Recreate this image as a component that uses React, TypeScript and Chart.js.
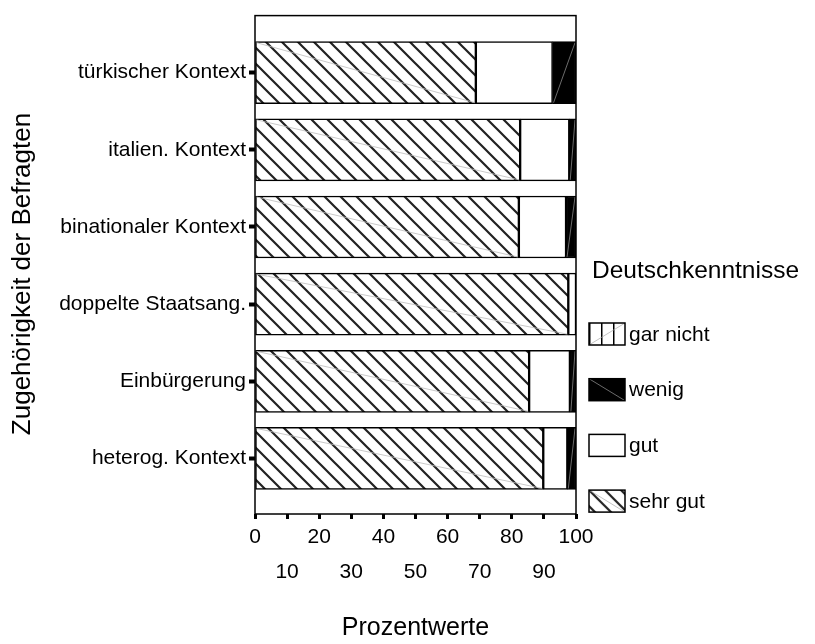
import React, { useEffect, useRef } from 'react';
import { Chart, registerables } from 'chart.js';

Chart.register(...registerables);

const categories = [
  'türkischer Kontext',
  'italien. Kontext',
  'binationaler Kontext',
  'doppelte Staatsang.',
  'Einbürgerung',
  'heterog. Kontext',
];
const sehrGut = [68.8, 82.6, 82.2, 97.6, 85.4, 89.8];
const gut = [23.9, 15.3, 14.7, 2.4, 12.7, 7.5];
const wenig = [7.3, 2.1, 3.1, 0, 1.9, 2.7];
const garNicht = [0, 0, 0, 0, 0, 0];
const seriesLabels = ['sehr gut', 'gut', 'wenig', 'gar nicht'];
const xTickValues = [0, 10, 20, 30, 40, 50, 60, 70, 80, 90, 100];
const legendTitle = 'Deutschkenntnisse';
const xTitle = 'Prozentwerte';
const yTitle = 'Zugehörigkeit der Befragten';

const FONT = "'Liberation Sans', Arial, Helvetica, sans-serif";

function makePattern(kind: string): CanvasPattern | string {
  const c = document.createElement('canvas');
  const ctx = c.getContext('2d');
  if (!ctx) return '#fff';
  if (kind === 'stripes') {
    const s = 16;
    c.width = s;
    c.height = s;
    ctx.fillStyle = '#fff';
    ctx.fillRect(0, 0, s, s);
    ctx.strokeStyle = '#222';
    ctx.lineWidth = 2.2;
    ctx.beginPath();
    ctx.moveTo(-2, -2);
    ctx.lineTo(s + 2, s + 2);
    ctx.moveTo(s - 2, -2);
    ctx.lineTo(s + 2, 2);
    ctx.moveTo(-2, s - 2);
    ctx.lineTo(2, s + 2);
    ctx.stroke();
  } else if (kind === 'vlines') {
    const s = 12;
    c.width = s;
    c.height = s;
    ctx.fillStyle = '#fff';
    ctx.fillRect(0, 0, s, s);
    ctx.fillStyle = '#000';
    ctx.fillRect(0, 0, 1.5, s);
  }
  const p = ctx.createPattern(c, 'repeat');
  return p || '#fff';
}

export default function App() {
  const ref = useRef<HTMLCanvasElement | null>(null);

  useEffect(() => {
    if (!ref.current) return;
    const stripes = makePattern('stripes');
    const vlines = makePattern('vlines');

    const toPoints = (arr: number[]) => arr.map((v, i) => ({ x: v, y: i }));

    const framePlugin = {
      id: 'frame',
      afterDatasetsDraw(chart: any) {
        const { ctx, chartArea } = chart;
        ctx.save();
        chart.data.datasets.forEach((ds: any, di: number) => {
          if (ds.label !== 'sehr gut' && ds.label !== 'wenig') return;
          const meta = chart.getDatasetMeta(di);
          meta.data.forEach((bar: any) => {
            const { x, y, base, height } = bar.getProps(['x', 'y', 'base', 'height'], true);
            if (Math.abs(x - base) < 1) return;
            const top = y - height / 2;
            const bottom = y + height / 2;
            ctx.strokeStyle = ds.label === 'wenig' ? '#888' : '#bbb';
            ctx.lineWidth = 0.8;
            ctx.beginPath();
            if (ds.label === 'sehr gut') {
              ctx.moveTo(base + 1, top + 1);
              ctx.lineTo(x - 1, bottom - 1);
            } else {
              ctx.moveTo(base + 1, bottom - 1);
              ctx.lineTo(x - 1, top + 1);
            }
            ctx.stroke();
          });
        });
        ctx.strokeStyle = '#000';
        ctx.lineWidth = 1.5;
        ctx.strokeRect(
          chartArea.left,
          chartArea.top,
          chartArea.right - chartArea.left,
          chartArea.bottom - chartArea.top
        );
        ctx.restore();
      },
    };

    const legendPlugin = {
      id: 'customLegend',
      afterDraw(chart: any) {
        const { ctx, chartArea } = chart;
        const x0 = chartArea.right + 13;
        ctx.save();
        ctx.save();
        ctx.translate(23, 274);
        ctx.rotate(-Math.PI / 2);
        ctx.fillStyle = '#000';
        ctx.font = `26px ${FONT}`;
        ctx.textAlign = 'center';
        ctx.textBaseline = 'middle';
        ctx.fillText(yTitle, 0, 0);
        ctx.restore();

        ctx.fillStyle = '#000';
        ctx.font = `24.5px ${FONT}`;
        ctx.textBaseline = 'alphabetic';
        ctx.textAlign = 'left';
        ctx.fillText(legendTitle, x0 + 3, 278);
        const items = [...chart.data.datasets].reverse();
        items.forEach((ds: any, i: number) => {
          const y = 323 + i * 55.7;
          ctx.save();
          ctx.translate(x0, y);
          ctx.fillStyle = ds.backgroundColor;
          ctx.fillRect(0, 0, 36, 22);
          if (ds.label === 'gar nicht' || ds.label === 'wenig' || ds.label === 'sehr gut') {
            ctx.strokeStyle = ds.label === 'wenig' ? '#999' : '#aaa';
            ctx.lineWidth = 0.7;
            ctx.beginPath();
            if (ds.label === 'gar nicht') {
              ctx.moveTo(0, 22);
              ctx.lineTo(36, 0);
            } else {
              ctx.moveTo(0, 0);
              ctx.lineTo(36, 22);
            }
            ctx.stroke();
          }
          ctx.strokeStyle = '#000';
          ctx.lineWidth = 1.5;
          ctx.strokeRect(0, 0, 36, 22);
          ctx.restore();
          ctx.fillStyle = '#000';
          ctx.font = `21px ${FONT}`;
          ctx.textBaseline = 'middle';
          ctx.fillText(ds.label, x0 + 40, y + 12);
        });
        ctx.restore();
      },
    };

    const common = {
      borderColor: '#000',
      borderWidth: 1.5,
      borderSkipped: false,
      barThickness: 62,
    };

    const chart = new Chart(ref.current, {
      type: 'bar',
      data: {
        datasets: [
          { ...common, label: seriesLabels[0], data: toPoints(sehrGut), backgroundColor: stripes },
          { ...common, label: seriesLabels[1], data: toPoints(gut), backgroundColor: '#fff' },
          { ...common, label: seriesLabels[2], data: toPoints(wenig), backgroundColor: '#000' },
          { ...common, label: seriesLabels[3], data: toPoints(garNicht), backgroundColor: vlines },
        ] as any,
      },
      options: {
        indexAxis: 'y',
        responsive: false,
        animation: false,
        layout: { padding: { left: 0, right: 815 - 576, top: 14, bottom: 0 } },
        plugins: {
          legend: { display: false },
          tooltip: { enabled: false },
        },
        scales: {
          x: {
            type: 'linear',
            stacked: true,
            offset: false,
            min: 0,
            max: 100,
            afterBuildTicks: (scale: any) => {
              scale.ticks = xTickValues.map((v) => ({ value: v }));
            },
            afterFit: (scale: any) => {
              scale.height = 130;
            },
            ticks: {
              autoSkip: false,
              maxRotation: 0,
              minRotation: 0,
              padding: 1,
              color: '#000',
              font: { family: FONT, size: 21, lineHeight: 35 / 21 },
              callback: (v: any, i: number) =>
                i % 2 === 0 ? [String(v), ''] : ['', String(v)],
            },
            grid: {
              display: true,
              offset: false,
              drawOnChartArea: false,
              drawTicks: true,
              tickLength: 5,
              tickWidth: 3,
              tickColor: '#000',
            },
            border: { display: false },
            title: {
              display: true,
              text: xTitle,
              color: '#000',
              font: { family: FONT, size: 25 },
              padding: { top: 0, bottom: 1 },
            },
          },
          y: {
            type: 'linear',
            stacked: true,
            reverse: true,
            offset: false,
            min: -0.74,
            max: 5.72,
            afterBuildTicks: (scale: any) => {
              scale.ticks = categories.map((_, i) => ({ value: i }));
            },
            afterFit: (scale: any) => {
              scale.width = 255;
            },
            ticks: {
              autoSkip: false,
              padding: 3,
              color: '#000',
              font: { family: FONT, size: 21 },
              callback: (v: any) => categories[Math.round(Number(v))] ?? '',
            },
            grid: {
              display: true,
              offset: false,
              drawOnChartArea: false,
              drawTicks: true,
              tickLength: 6,
              tickWidth: 4,
              tickColor: '#000',
            },
            border: { display: false },
            title: { display: false },
          },
        },
      } as any,
      plugins: [framePlugin, legendPlugin],
    });

    return () => chart.destroy();
  }, []);

  return (
    <div style={{ position: 'fixed', left: 0, top: 0, width: 815, height: 644, background: '#fff' }}>
      <canvas ref={ref} width={815} height={644} style={{ width: 815, height: 644 }} />
    </div>
  );
}
